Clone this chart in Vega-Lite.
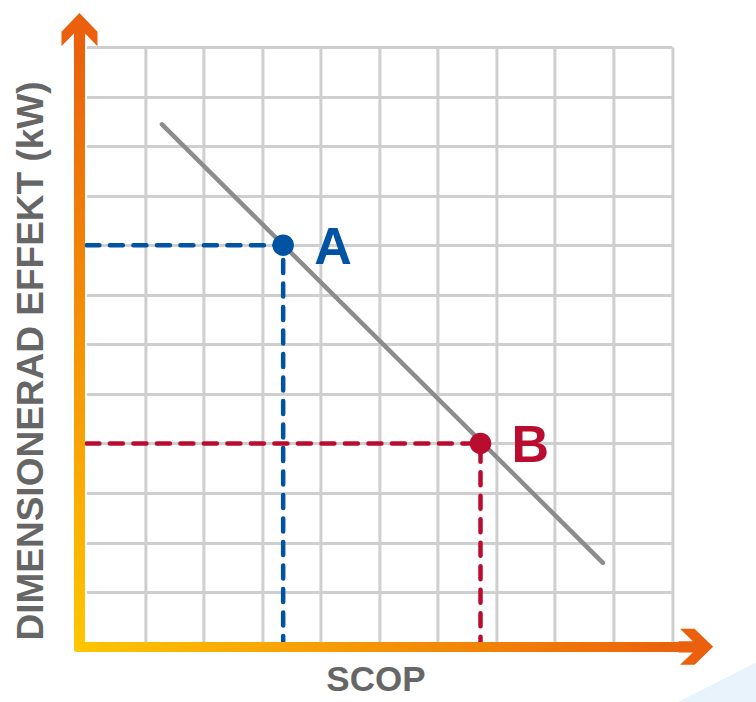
{
  "$schema": "https://vega.github.io/schema/vega-lite/v6.json",
  "autosize": "none",
  "width": 585.6,
  "height": 594.6,
  "padding": {"left": 86.4, "top": 47, "right": 84, "bottom": 60.4},
  "background": "white",
  "config": {"view": {"stroke": null}},
  "datasets": {
    "decor": [{"x": 9.97, "y": -1.3, "y0": -1.3}, {"x": 11.5, "y": -0.38, "y0": -1.3}],
    "curve": [{"x": 1.29, "y": 10.44}, {"x": 8.82, "y": 1.59}],
    "guides": [
      {"p": "A", "o": 1, "x": 0, "y": 8},
      {"p": "A", "o": 2, "x": 3.36, "y": 8},
      {"p": "A", "o": 3, "x": 3.36, "y": 0},
      {"p": "B", "o": 1, "x": 0, "y": 4},
      {"p": "B", "o": 2, "x": 6.73, "y": 4},
      {"p": "B", "o": 3, "x": 6.73, "y": 0}
    ],
    "points": [{"p": "A", "x": 3.36, "y": 8}, {"p": "B", "x": 6.73, "y": 4}],
    "vshaft": [{"x": -0.212, "x2": -0.024, "y": -0.204, "y2": 12.2}],
    "hshaft": [{"x": -0.212, "x2": 10.3, "y": -0.008, "y2": -0.21}],
    "vhead": [{"x": -0.118, "y": 12.35}],
    "hhead": [{"x": 10.42, "y": -0.105}]
  },
  "encoding": {
    "x": {
      "field": "x", "type": "quantitative",
      "scale": {"domain": [0, 10], "nice": false, "zero": false},
      "axis": {
        "values": [1, 2, 3, 4, 5, 6, 7, 8, 9, 10],
        "grid": true, "gridColor": "#cfcfcf", "gridWidth": 3,
        "domain": false, "ticks": false, "labels": false,
        "title": "SCOP", "titleFont": "Liberation Sans", "titleFontWeight": "bold",
        "titleFontSize": 35, "titleColor": "#666666",
        "titleX": 289, "titleY": 48.4, "titleAlign": "center", "titleBaseline": "alphabetic"
      }
    },
    "y": {
      "field": "y", "type": "quantitative",
      "scale": {"domain": [0, 12], "nice": false, "zero": false},
      "axis": {
        "values": [1, 2, 3, 4, 5, 6, 7, 8, 9, 10, 11, 12],
        "grid": true, "gridColor": "#cfcfcf", "gridWidth": 3,
        "domain": false, "ticks": false, "labels": false,
        "title": "DIMENSIONERAD EFFEKT (kW)", "titleFont": "Liberation Sans", "titleFontWeight": "bold",
        "titleFontSize": 37, "titleColor": "#666666",
        "titleAngle": 270, "titleX": -44.4, "titleY": 313.5, "titleAlign": "center", "titleBaseline": "alphabetic"
      }
    }
  },
  "layer": [
    {
      "data": {"name": "decor"},
      "mark": {"type": "area", "color": "#e8f3fb", "clip": false},
      "encoding": {"y2": {"field": "y0"}}
    },
    {
      "data": {"name": "curve"},
      "mark": {"type": "line", "color": "#8c8c8c", "strokeWidth": 4.5, "strokeCap": "round"}
    },
    {
      "data": {"name": "guides"},
      "mark": {"type": "line", "strokeWidth": 4.5, "strokeDash": [13, 10.5], "strokeCap": "round"},
      "encoding": {
        "order": {"field": "o", "type": "quantitative"},
        "color": {"field": "p", "type": "nominal", "scale": {"domain": ["A", "B"], "range": ["#0052a3", "#ba0c2f"]}, "legend": null}
      }
    },
    {
      "data": {"name": "vshaft"},
      "mark": {"type": "rect", "cornerRadius": 3, "clip": false,
        "color": {"gradient": "linear", "x1": 0, "y1": 1, "x2": 0, "y2": 0,
          "stops": [{"offset": 0, "color": "#ffc600"}, {"offset": 1, "color": "#ea600c"}]}},
      "encoding": {"x2": {"field": "x2"}, "y2": {"field": "y2"}}
    },
    {
      "data": {"name": "hshaft"},
      "mark": {"type": "rect", "cornerRadius": 3, "clip": false,
        "color": {"gradient": "linear", "x1": 0, "y1": 0, "x2": 1, "y2": 0,
          "stops": [{"offset": 0, "color": "#ffc600"}, {"offset": 1, "color": "#ea600c"}]}},
      "encoding": {"x2": {"field": "x2"}, "y2": {"field": "y2"}}
    },
    {
      "data": {"name": "vhead"},
      "mark": {"type": "point", "filled": true, "opacity": 1, "color": "#ea600c", "size": 1296, "strokeWidth": 0, "clip": false,
        "shape": "M0,-0.92 L1,0.11 L1,0.92 L0.31,0.21 L0.31,1 L-0.31,1 L-0.31,0.21 L-1,0.92 L-1,0.11 Z"}
    },
    {
      "data": {"name": "hhead"},
      "mark": {"type": "point", "filled": true, "opacity": 1, "color": "#ea600c", "size": 1296, "strokeWidth": 0, "angle": 90, "clip": false,
        "shape": "M0,-0.92 L1,0.11 L1,0.92 L0.31,0.21 L0.31,1 L-0.31,1 L-0.31,0.21 L-1,0.92 L-1,0.11 Z"}
    },
    {
      "data": {"name": "points"},
      "mark": {"type": "point", "shape": "circle", "filled": true, "opacity": 1, "size": 460, "strokeWidth": 0},
      "encoding": {
        "color": {"field": "p", "type": "nominal", "scale": {"domain": ["A", "B"], "range": ["#0052a3", "#ba0c2f"]}, "legend": null}
      }
    },
    {
      "data": {"name": "points"},
      "mark": {"type": "text", "font": "Liberation Sans", "fontWeight": "bold", "fontSize": 52, "align": "left", "baseline": "alphabetic", "dx": 31, "dy": 19},
      "encoding": {
        "text": {"field": "p"},
        "color": {"field": "p", "type": "nominal", "scale": {"domain": ["A", "B"], "range": ["#0052a3", "#ba0c2f"]}, "legend": null}
      }
    }
  ]
}
